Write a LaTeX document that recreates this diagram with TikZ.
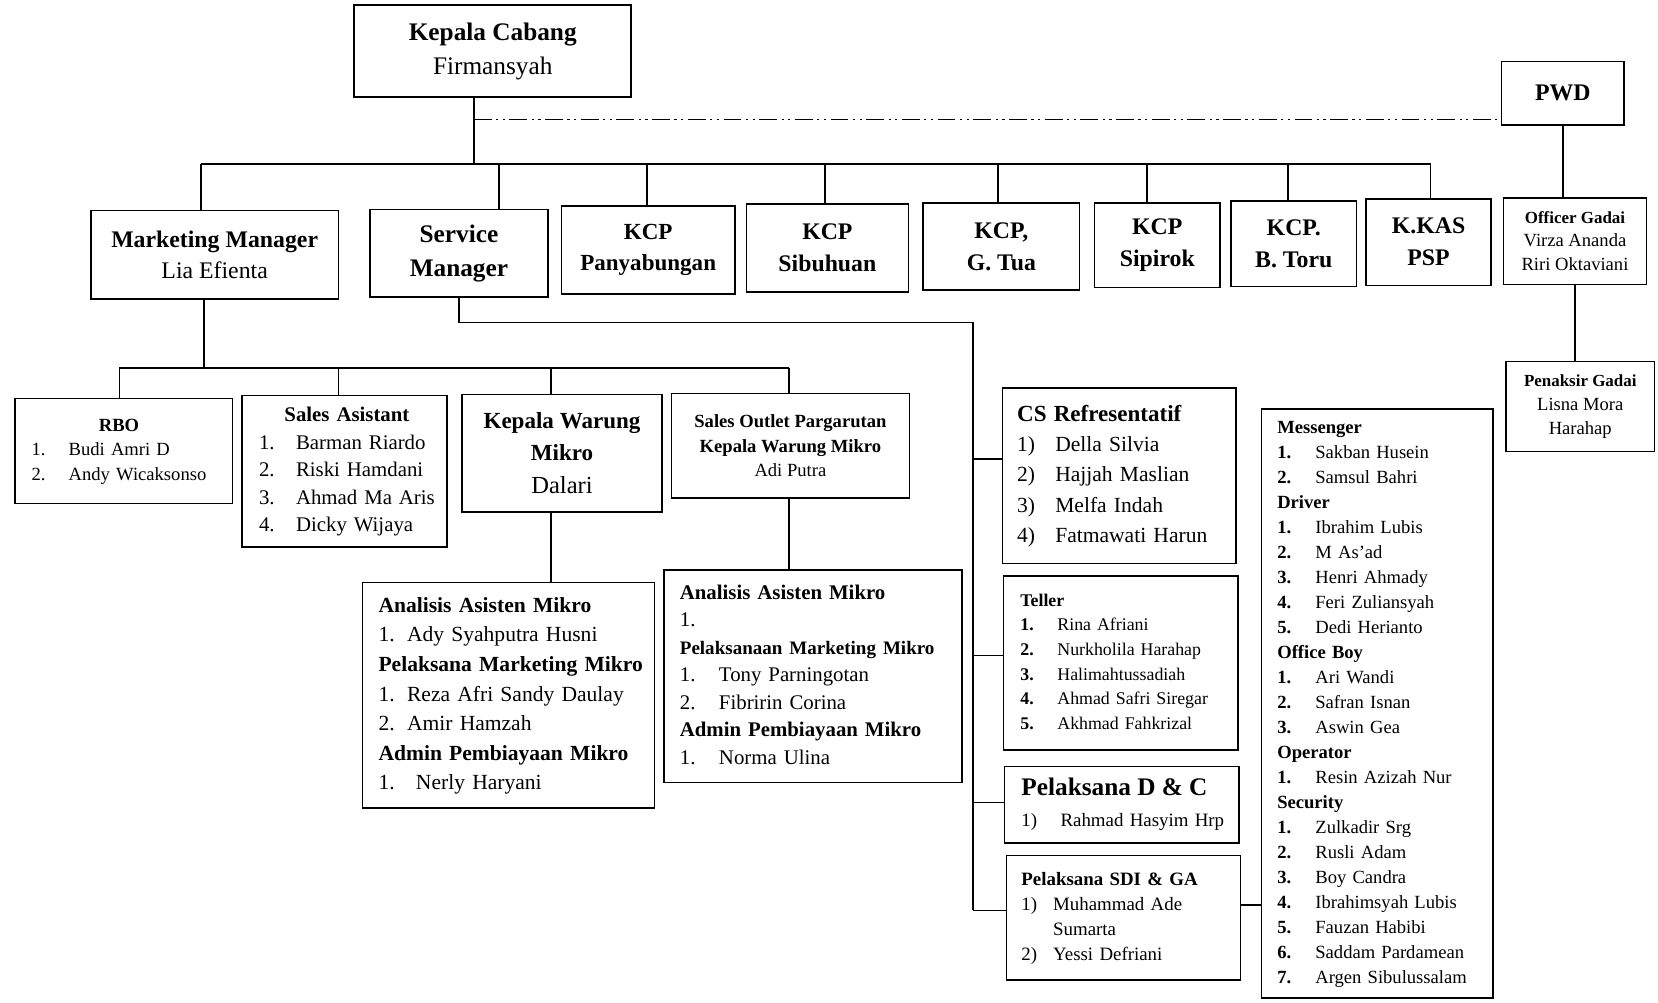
\documentclass[tikz,border=0pt]{standalone}
\usepackage{fontspec}
\setmainfont{Liberation Serif}
\usetikzlibrary{calc}

\tikzset{
  box/.style={draw, line width=1.1pt},
  ctr/.style={box, align=center, inner sep=0pt},
  lst/.style={box, align=left, inner ysep=0pt},
  ln/.style={line width=1.1pt},
  ddot/.style={line width=1.1pt, dash pattern=on 12pt off 3pt on 1.5pt off 3pt on 1.5pt off 3pt},
}
\newcommand{\fsz}[2]{\fontsize{#1}{#2}\selectfont}

\begin{document}
\begin{tikzpicture}[x=0.025cm, y=-0.025cm]
    \useasboundingbox (0,0) rectangle (1568,948);

    % pimpinan
    \node[ctr, minimum width=6.55cm, minimum height=2.175cm, font=\fsz{17}{22.8}] (kc) at (466,48.5) {\textbf{Kepala Cabang}\\Firmansyah};
    \node[ctr, minimum width=2.9cm, minimum height=1.5cm, font=\fsz{16}{20}\bfseries] (pwd) at (1478,88) {PWD};

    % baris kedua
    \node[ctr, minimum width=5.85cm, minimum height=2.1cm, font=\fsz{16}{20.6}] (mm) at (203,241) {\textbf{Marketing Manager}\\Lia Efienta};
    \node[ctr, minimum width=4.2cm, minimum height=2.075cm, font=\fsz{17}{22.8}\bfseries] (sm) at (434,239.5) {Service\\Manager};
    \node[ctr, minimum width=4.1cm, minimum height=2.075cm, font=\fsz{15.5}{21}\bfseries] (kcp1) at (613,236.5) {KCP\\Panyabungan};
    \node[ctr, minimum width=3.825cm, minimum height=2.075cm, font=\fsz{16}{21.5}\bfseries] (kcp2) at (782.5,234.5) {KCP\\Sibuhuan};
    \node[ctr, minimum width=3.7cm, minimum height=2.05cm, font=\fsz{16}{21.5}\bfseries] (kcp3) at (947,233) {KCP,\\G. Tua};
    \node[ctr, minimum width=2.975cm, minimum height=2cm, font=\fsz{16}{21.5}\bfseries] (kcp4) at (1094.5,232) {KCP\\Sipirok};
    \node[ctr, minimum width=2.975cm, minimum height=2.025cm, font=\fsz{16}{21.5}\bfseries] (kcp5) at (1223.5,230.5) {KCP.\\B. Toru};
    \node[ctr, minimum width=2.95cm, minimum height=2.05cm, font=\fsz{16}{21.5}\bfseries] (kkas) at (1351,229) {K.KAS\\PSP};
    \node[ctr, minimum width=3.375cm, minimum height=2.05cm, font=\fsz{12.5}{15.6}] (og) at (1489.5,228) {{\fsz{11.4}{15.6}\bfseries Officer Gadai}\\Virza Ananda\\Riri Oktaviani};
    \node[ctr, minimum width=3.5cm, minimum height=2.125cm, font=\fsz{12.5}{16}] (pg) at (1494.5,384.5) {{\fsz{11.4}{16}\bfseries Penaksir Gadai}\\Lisna Mora\\Harahap};

    % bawah marketing manager
    \node[lst, text width=4.35cm, inner xsep=0.4cm, minimum height=2.475cm, font=\fsz{12.5}{16.7}] (rbo) at (117,426.5) {%
      \begin{tabular}{@{}p{0.875cm}@{}l@{}}
        \multicolumn{2}{@{}c@{}}{\textbf{RBO}}\\
        1. & Budi Amri D\\
        2. & Andy Wicaksonso
      \end{tabular}};
    \node[lst, text width=4.05cm, inner xsep=0.4cm, minimum height=3.575cm, font=\fsz{14}{18.5}] (sa) at (326,445.5) {%
      \begin{tabular}{@{}p{0.875cm}@{}l@{}}
        \multicolumn{2}{@{}c@{}}{\textbf{Sales Asistant}}\\
        1. & Barman Riardo\\
        2. & Riski Hamdani\\
        3. & Ahmad Ma Aris\\
        4. & Dicky Wijaya
      \end{tabular}};
    \node[ctr, minimum width=4.725cm, minimum height=2.775cm, font=\fsz{15.5}{21.7}] (kwm) at (531.5,428.5) {\textbf{Kepala Warung}\\\textbf{Mikro}\\{\fsz{16.5}{21.7}Dalari}};
    \node[ctr, minimum width=5.625cm, minimum height=2.475cm, font=\fsz{12.5}{16.7}] (so) at (747.5,421.5) {\textbf{Sales Outlet Pargarutan}\\\textbf{Kepala Warung Mikro}\\Adi Putra};

    \node[lst, text width=6.15cm, inner xsep=0.375cm, minimum height=5.325cm, font=\fsz{14.5}{19.9}] (aam1) at (481,657.5) {%
      \begin{tabular}{@{}p{0.675cm}@{}l@{}}
        \multicolumn{2}{@{}l@{}}{\textbf{Analisis Asisten Mikro}}\\
        1. & Ady Syahputra Husni\\
        \multicolumn{2}{@{}l@{}}{\textbf{Pelaksana Marketing Mikro}}\\
        1. & Reza Afri Sandy Daulay\\
        2. & Amir Hamzah\\
        \multicolumn{2}{@{}l@{}}{\textbf{Admin Pembiayaan Mikro}}\\
        1. & \hspace{6pt}Nerly Haryani
      \end{tabular}};
    \node[lst, text width=6.3cm, inner xsep=0.375cm, minimum height=5.025cm, font=\fsz{14}{18.5}] (aam2) at (769,639.5) {%
      \begin{tabular}{@{}p{0.925cm}@{}l@{}}
        \multicolumn{2}{@{}l@{}}{\textbf{Analisis Asisten Mikro}}\\
        1. & \\
        \multicolumn{2}{@{}l@{}}{\fsz{12.8}{18.5}\textbf{Pelaksanaan Marketing Mikro}}\\
        1. & Tony Parningotan\\
        2. & Fibririn Corina\\
        \multicolumn{2}{@{}l@{}}{\textbf{Admin Pembiayaan Mikro}}\\
        1. & Norma Ulina
      \end{tabular}};

    % bawah service manager
    \node[lst, text width=4.825cm, inner xsep=0.35cm, minimum height=4.15cm, font=\fsz{14.5}{20.3}] (cs) at (1058.5,450) {%
      \begin{tabular}{@{}p{0.9cm}@{}l@{}}
        \multicolumn{2}{@{}l@{}}{\fsz{15.5}{20.3}\textbf{CS Refresentatif}}\\
        1) & Della Silvia\\
        2) & Hajjah Maslian\\
        3) & Melfa Indah\\
        4) & Fatmawati Harun
      \end{tabular}};
    \node[lst, text width=4.75cm, inner xsep=0.4cm, minimum height=4.1cm, font=\fsz{12}{16.6}] (teller) at (1060,627) {%
      \begin{tabular}{@{}p{0.875cm}@{}l@{}}
        \multicolumn{2}{@{}l@{}}{\textbf{Teller}}\\
        \textbf{1.} & Rina Afriani\\
        \textbf{2.} & Nurkholila Harahap\\
        \textbf{3.} & Halimahtussadiah\\
        \textbf{4.} & Ahmad Safri Siregar\\
        \textbf{5.} & Akhmad Fahkrizal
      \end{tabular}};
    \node[lst, text width=4.75cm, inner xsep=0.4cm, minimum height=1.8cm, font=\fsz{12.7}{21.3}] (dc) at (1061,761) {%
      \begin{tabular}{@{}p{0.925cm}@{}l@{}}
        \multicolumn{2}{@{}l@{}}{\fsz{17}{21.3}\textbf{Pelaksana D \& C}}\\
        1) & Rahmad Hasyim Hrp
      \end{tabular}};
    \node[lst, text width=4.825cm, inner xsep=0.35cm, minimum height=2.95cm, font=\fsz{12.7}{16.9}] (sdi) at (1062.5,868) {%
      \begin{tabular}{@{}p{0.75cm}@{}l@{}}
        \multicolumn{2}{@{}l@{}}{\textbf{Pelaksana SDI \& GA}}\\
        1) & Muhammad Ade\\
           & Sumarta\\
        2) & Yessi Defriani
      \end{tabular}};
    \node[lst, text width=4.725cm, inner xsep=0.375cm, minimum height=13.925cm, font=\fsz{12.5}{16.8}] (ms) at (1302.5,665.5) {%
      \begin{tabular}{@{}p{0.9cm}@{}l@{}}
        \multicolumn{2}{@{}l@{}}{\textbf{Messenger}}\\
        \textbf{1.} & Sakban Husein\\
        \textbf{2.} & Samsul Bahri\\
        \multicolumn{2}{@{}l@{}}{\textbf{Driver}}\\
        \textbf{1.} & Ibrahim Lubis\\
        \textbf{2.} & M As'ad\\
        \textbf{3.} & Henri Ahmady\\
        \textbf{4.} & Feri Zuliansyah\\
        \textbf{5.} & Dedi Herianto\\
        \multicolumn{2}{@{}l@{}}{\textbf{Office Boy}}\\
        \textbf{1.} & Ari Wandi\\
        \textbf{2.} & Safran Isnan\\
        \textbf{3.} & Aswin Gea\\
        \multicolumn{2}{@{}l@{}}{\textbf{Operator}}\\
        \textbf{1.} & Resin Azizah Nur\\
        \multicolumn{2}{@{}l@{}}{\textbf{Security}}\\
        \textbf{1.} & Zulkadir Srg\\
        \textbf{2.} & Rusli Adam\\
        \textbf{3.} & Boy Candra\\
        \textbf{4.} & Ibrahimsyah Lubis\\
        \textbf{5.} & Fauzan Habibi\\
        \textbf{6.} & Saddam Pardamean\\
        \textbf{7.} & Argen Sibulussalam
      \end{tabular}};

    % garis dari kepala cabang
    \coordinate (b-top) at (448,155);
    \coordinate (d-l) at (448,113);
    \coordinate (t-mm) at (190,155);
    \coordinate (t-sm) at (472,155);
    \coordinate (t-kcp1) at (612,155);
    \coordinate (t-kcp2) at (780,155);
    \coordinate (t-kcp3) at (944,155);
    \coordinate (t-kcp4) at (1085,155);
    \coordinate (t-kcp5) at (1218,155);
    \coordinate (t-kkas) at (1353,155);
    \draw[ln] (kc.south -| b-top) -- (b-top);
    \draw[ddot] (d-l) -- (d-l -| pwd.west);
    \draw[ln] (t-mm) -- (t-kkas);
    \foreach \n in {mm,sm,kcp1,kcp2,kcp3,kcp4,kcp5,kkas}
        \draw[ln] (t-\n) -- (t-\n |- \n.north);
    \draw[ln] (pwd.south) -- (pwd.south |- og.north);
    \draw[ln] (og.south) -- (og.south |- pg.north);

    % garis marketing
    \coordinate (m-top) at (193,348);
    \coordinate (t-rbo) at (113,348);
    \coordinate (t-sa) at (320,348);
    \coordinate (t-kwm) at (521,348);
    \coordinate (t-so) at (746,348);
    \draw[ln] (mm.south -| m-top) -- (m-top);
    \draw[ln] (t-rbo) -- (t-so);
    \foreach \n in {rbo,sa,kwm,so}
        \draw[ln] (t-\n) -- (t-\n |- \n.north);
    \draw[ln] (t-kwm |- kwm.south) -- (t-kwm |- aam1.north);
    \draw[ln] (t-so |- so.south) -- (t-so |- aam2.north);

    % garis service
    \coordinate (s-turn) at (920,305);
    \coordinate (t-cs) at (920,434);
    \coordinate (t-teller) at (920,620);
    \coordinate (t-dc) at (920,759);
    \coordinate (t-sdi) at (920,861);
    \draw[ln] (sm.south) |- (s-turn) -- (t-sdi);
    \foreach \n in {cs,teller,dc,sdi}
        \draw[ln] (t-\n) -- (t-\n -| \n.west);
    \coordinate (t-ms) at ($(sdi.east)+(0,-12)$);
    \draw[ln] (t-ms) -- (t-ms -| ms.west);
\end{tikzpicture}
\end{document}
